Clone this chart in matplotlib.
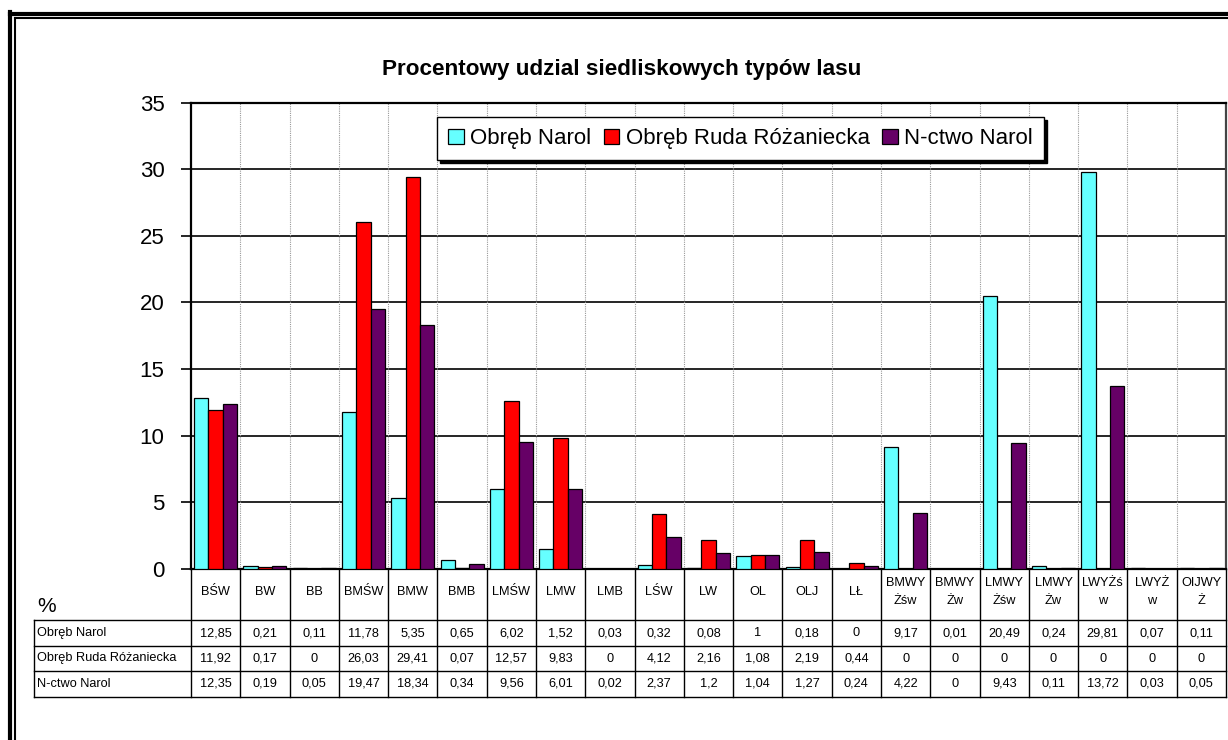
import matplotlib
matplotlib.use("Agg")
import matplotlib.pyplot as plt
import numpy as np
from matplotlib.lines import Line2D
from matplotlib.transforms import blended_transform_factory

plt.rcParams['font.family'] = ['Liberation Sans', 'DejaVu Sans']

categories = ["BŚW", "BW", "BB", "BMŚW", "BMW", "BMB", "LMŚW", "LMW", "LMB", "LŚW",
              "LW", "OL", "OLJ", "LŁ", "BMWY\nŻśw", "BMWY\nŻw", "LMWY\nŻśw", "LMWY\nŻw",
              "LWYŻś\nw", "LWYŻ\nw", "OIJWY\nŻ"]
series_names = ["Obręb Narol", "Obręb Ruda Różaniecka", "N-ctwo Narol"]
obreb_narol = [12.85, 0.21, 0.11, 11.78, 5.35, 0.65, 6.02, 1.52, 0.03, 0.32, 0.08, 1, 0.18, 0,
               9.17, 0.01, 20.49, 0.24, 29.81, 0.07, 0.11]
obreb_ruda = [11.92, 0.17, 0, 26.03, 29.41, 0.07, 12.57, 9.83, 0, 4.12, 2.16, 1.08, 2.19, 0.44,
              0, 0, 0, 0, 0, 0, 0]
nctwo_narol = [12.35, 0.19, 0.05, 19.47, 18.34, 0.34, 9.56, 6.01, 0.02, 2.37, 1.2, 1.04, 1.27, 0.24,
               4.22, 0, 9.43, 0.11, 13.72, 0.03, 0.05]
colors = ["#66FFFF", "#FF0000", "#660066"]
title = "Procentowy udzial siedliskowych typów lasu"

W, H = 1228, 740
fig = plt.figure(figsize=(W / 100, H / 100), dpi=100)

def fx(px):
    return px / W

def fy(py):
    return 1 - py / H

ax_l, ax_r, ax_t, ax_b = 191, 1226, 102.5, 569
ax = fig.add_axes([fx(ax_l), fy(ax_b), (ax_r - ax_l) / W, (ax_b - ax_t) / H])

n = len(categories)
x = np.arange(n)
bw = 0.29
data = [obreb_narol, obreb_ruda, nctwo_narol]
for i, (vals, c, name) in enumerate(zip(data, colors, series_names)):
    ax.bar(x + (i - 1) * bw, vals, bw, color=c, edgecolor='black', linewidth=0.9,
           label=name, zorder=3)

ax.set_xlim(-0.5, n - 0.5)
ax.set_ylim(0, 35)
ax.set_yticks(np.arange(0, 36, 5))
ax.set_yticklabels([str(v) for v in range(0, 36, 5)], fontsize=16)
ax.tick_params(axis='y', direction='out', length=7, width=1.2, pad=12)
ax.set_xticks([])
for yv in range(5, 35, 5):
    ax.axhline(yv, color='black', linewidth=1.2, zorder=1)
for xb in np.arange(n - 1) + 0.5:
    ax.axvline(xb, color='#999999', linewidth=0.8, linestyle=(0, (1, 1)), zorder=1)
for s in ['left', 'bottom', 'top']:
    ax.spines[s].set_linewidth(1.6)
    ax.spines[s].set_color('black')
ax.spines['right'].set_linewidth(1.6)
ax.spines['right'].set_color('#444444')

leg = ax.legend(loc='upper left', bbox_to_anchor=(fx(437), fy(117)),
                bbox_transform=fig.transFigure, ncol=3, fontsize=16,
                frameon=True, fancybox=False, framealpha=1, edgecolor='black',
                handlelength=0.7, handleheight=0.7, handletextpad=0.3,
                columnspacing=0.55, borderpad=0.5, borderaxespad=0,
                shadow={'facecolor': 'black', 'edgecolor': 'black', 'alpha': 1})
leg.get_frame().set_linewidth(1.0)
leg.set_zorder(5)

fig.text(fx(622), fy(69), title, ha='center', va='center', fontsize=16.2, fontweight='bold')

# data table below the axes
tr = blended_transform_factory(ax.transData, fig.transFigure)
row_y = [569, 620, 646, 671, 697]
lab_left = 34
lw_t = 1.0
for yy in row_y[1:]:
    fig.add_artist(Line2D([fx(lab_left), fx(ax_r)], [fy(yy), fy(yy)], color='black', lw=lw_t))
fig.add_artist(Line2D([fx(lab_left), fx(lab_left)], [fy(row_y[1]), fy(row_y[-1])], color='black', lw=lw_t))
for xb in np.arange(n + 1) - 0.5:
    ax.add_artist(Line2D([xb, xb], [fy(row_y[0]), fy(row_y[-1])], color='black', lw=lw_t,
                         transform=tr, clip_on=False))

def fmt(v):
    return f"{v:g}".replace('.', ',')

tfs = 9.2
for i, cat in enumerate(categories):
    ax.text(i, fy(592), cat, transform=tr, ha='center', va='center',
            fontsize=tfs, linespacing=1.6, clip_on=False)
    for r, vals in enumerate(data):
        ax.text(i, fy((row_y[r + 1] + row_y[r + 2]) / 2), fmt(vals[i]), transform=tr,
                ha='center', va='center', fontsize=tfs, clip_on=False)
for r, name in enumerate(series_names):
    fig.text(fx(lab_left + 3), fy((row_y[r + 1] + row_y[r + 2]) / 2), name,
             ha='left', va='center', fontsize=tfs)
fig.text(fx(37), fy(606), "%", ha='left', va='center', fontsize=15)

# double frame (top and left)
fig.add_artist(Line2D([fx(10), fx(W)], [fy(13.7), fy(13.7)], color='black', lw=3.0))
fig.add_artist(Line2D([fx(10), fx(10)], [fy(12), fy(H)], color='black', lw=3.0))
fig.add_artist(Line2D([fx(14.5), fx(W)], [fy(18), fy(18)], color='black', lw=1.5))
fig.add_artist(Line2D([fx(14.5), fx(14.5)], [fy(18), fy(H)], color='black', lw=1.5))

fig.savefig("out.png", dpi=100)
